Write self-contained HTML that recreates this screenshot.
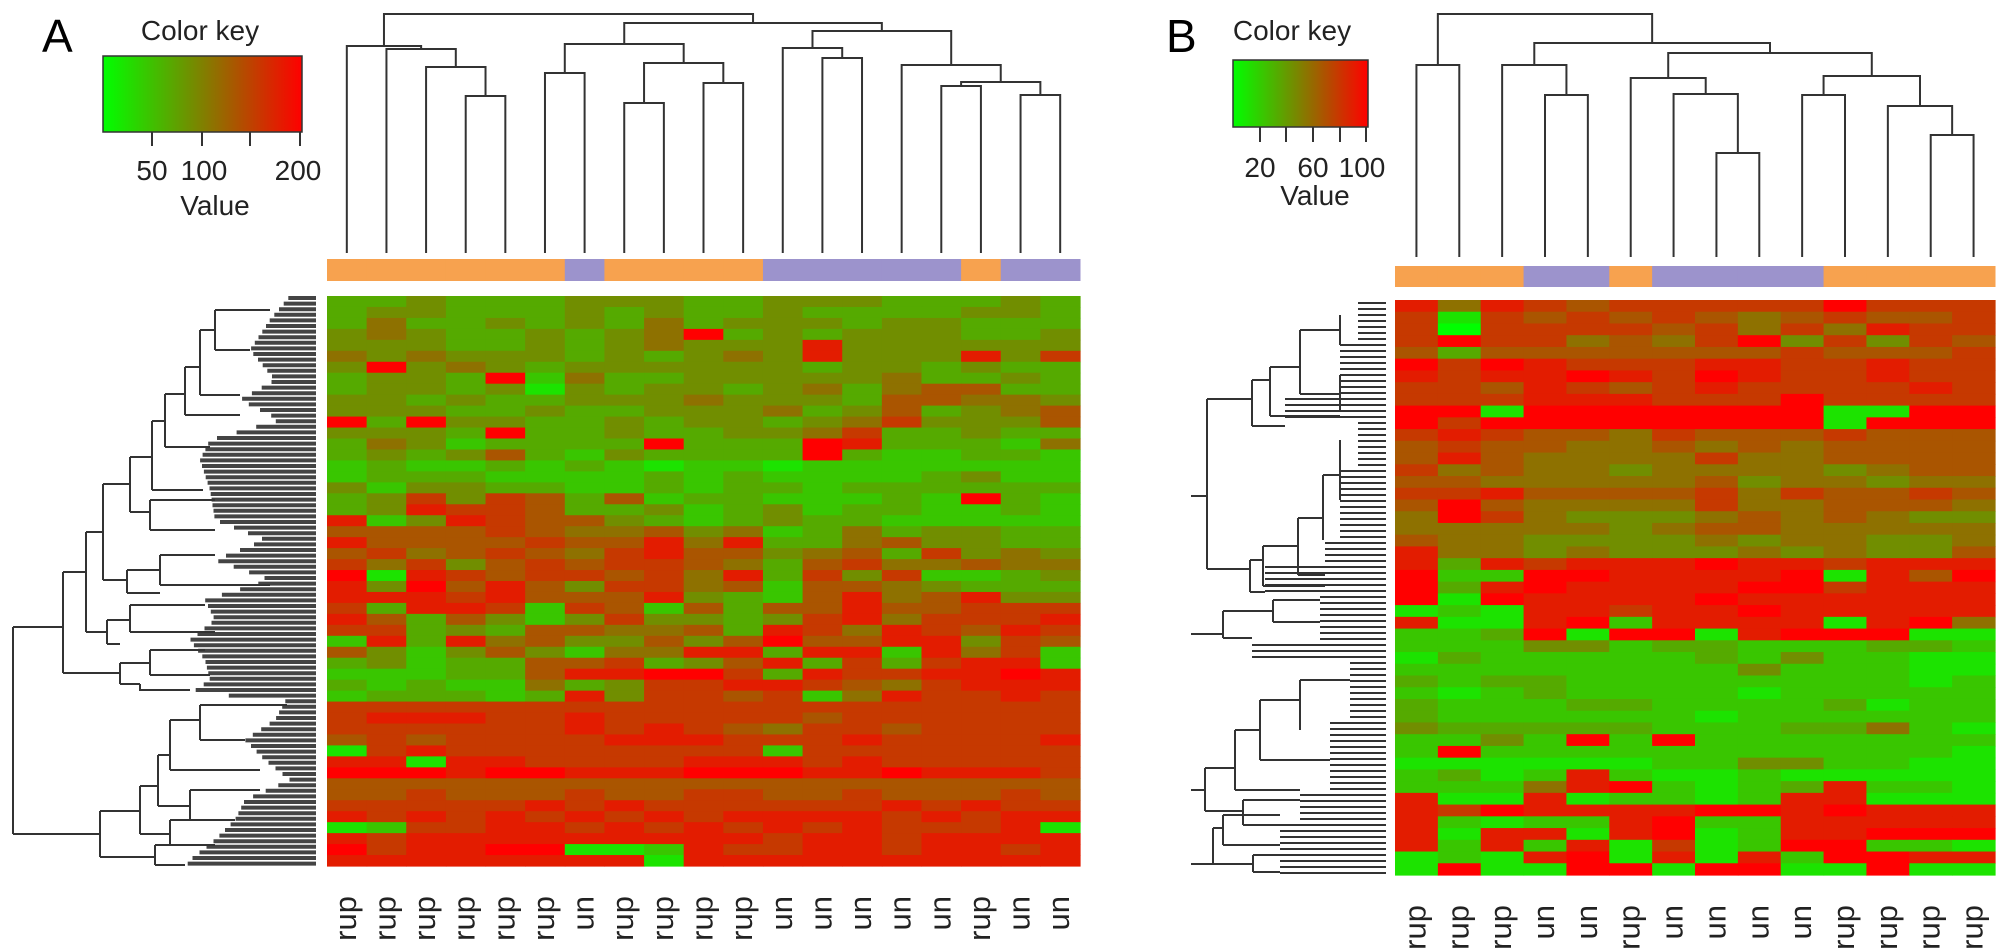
<!DOCTYPE html>
<html><head><meta charset="utf-8"><style>
html,body{margin:0;padding:0;background:#fff;}
svg{display:block;font-family:"Liberation Sans",Arial,sans-serif;}
</style></head><body>
<svg id="fig" width="2008" height="952" viewBox="0 0 2008 952" xmlns="http://www.w3.org/2000/svg">
<defs>
<linearGradient id="kg" x1="0" x2="1" y1="0" y2="0"><stop offset="0" stop-color="#00ff00"/><stop offset="0.5" stop-color="#808000"/><stop offset="1" stop-color="#ff0000"/></linearGradient>
</defs>
<g>
<text x="42" y="52" font-size="46">A</text>
<text x="200" y="40" font-size="28" text-anchor="middle" fill="#222">Color key</text>
<rect x="103" y="56" width="199" height="76" fill="url(#kg)" stroke="#333" stroke-width="1.5"/>
<g stroke="#333" stroke-width="2"><line x1="152" y1="132" x2="152" y2="146"/><line x1="202" y1="132" x2="202" y2="146"/><line x1="250" y1="132" x2="250" y2="146"/><line x1="300" y1="132" x2="300" y2="146"/></g>
<g font-size="28" fill="#222" text-anchor="middle"><text x="152" y="180">50</text><text x="204" y="180">100</text><text x="298" y="180">200</text></g>
<text x="215" y="215" font-size="28" text-anchor="middle" fill="#222">Value</text>
</g>
<g>
<text x="1166" y="52" font-size="46">B</text>
<text x="1292" y="40" font-size="28" text-anchor="middle" fill="#222">Color key</text>
<rect x="1233" y="60" width="135" height="67" fill="url(#kg)" stroke="#333" stroke-width="1.5"/>
<g stroke="#333" stroke-width="2"><line x1="1260" y1="127" x2="1260" y2="142"/><line x1="1286" y1="127" x2="1286" y2="142"/><line x1="1313" y1="127" x2="1313" y2="142"/><line x1="1340" y1="127" x2="1340" y2="142"/><line x1="1366" y1="127" x2="1366" y2="142"/></g>
<g font-size="28" fill="#222" text-anchor="middle"><text x="1260" y="177">20</text><text x="1313" y="177">60</text><text x="1362" y="177">100</text></g>
<text x="1315" y="205" font-size="28" text-anchor="middle" fill="#222">Value</text>
</g>
<g id="rowdendA"></g>
<g id="rowdendB"></g>
</svg>
<script>
// ---- Panel A data ----
const labelsA = ["rup","rup","rup","rup","rup","rup","un","rup","rup","rup","rup","un","un","un","un","un","rup","un","un"];
const mergesA = [[3,4,96],[2,19,67],[1,20,49],[0,21,46],[5,6,73],[7,8,103],[9,10,83],[24,25,63],[23,26,44],[12,13,58],[11,28,48],[15,16,86],[17,18,95],[30,31,82],[14,32,65],[29,33,31],[27,34,23],[22,35,14]];
const rowsA = [
"3343334443344433343","3443334343343333443","3533434353444344333","4543343459343444334",
"4443343454448444444","5454443434548444847","4945434444443443433","3443925334444453343",
"3443414344345356633","4434334445444366554","4443343344453463456","9394433434434574446",
"4443933433445733433","3542333393339833325","3434632433339322332","2322323212212222222",
"2333222232322223422","4244332232332333333","3474763623322232932","3487763342342332232",
"8248766432343322222","6666765564523534433","8666676685833564433","6756765786645637454",
"7574676776536755655","9187677675837472234","8496864775626654333","8887866684326856844",
"7388727626366866777","8636424744347857778","7734366556387587687","2838564464696688476",
"6424642558838828572","3423366734683737882","2223368899738778898","3232253477887657888",
"2333238477672587787","7777777777777777777","7888778777776777777","7777778787657767777",
"6767777888777877778","1787777777727777777","8818877778887877777","9998998889998898887",
"6666666666666666666","6676667667766766676","7777787877777787877","8787878787888878788",
"1277887878787877781","8788888888878878888","9788991128778878878","8888888818888888888"];
// ---- Panel B data ----
const labelsB = ["rup","rup","rup","un","un","rup","un","un","un","un","rup","rup","rup","rup"];
const mergesB = [[0,1,65],[3,4,95],[2,15,65],[7,8,153],[6,17,94],[5,18,78],[9,10,95],[12,13,135],[11,21,106],[20,22,76],[19,23,53],[16,24,43],[14,25,14]];
const rowsB = [
"85876777779777","71767676567667","70777767575877","79775657947476",
"63666666676667","97987778877877","87889879877877","77687678777787",
"77788877797777","99199999991199","97999999991999","78766576667666",
"67665565656666","68655557556666","75655455554566","66555556455455",
"77866667576676","69655557556665","59754445656544","55555456655555",
"65544445455445","85545444545446","83878889887888","92299888891869",
"93898888997888","91988889888888","12188788988888","81189288881895",
"22391991899911","22244233222332","13222223242211","22222222422211",
"32332222222212","21232222122222","32223322223122","32222221222222",
"43333322233521","22429292222222","29222222222221","11111122442211",
"23128211211111","22258921238221","81181221288111","87988889989888",
"82122892288888","81881891288999","82828171299221","12189181829988","19119919911911"];

const SVGNS = "http://www.w3.org/2000/svg";
const svg = document.getElementById('fig');
function mk(tag, attrs, parent){const e=document.createElementNS(SVGNS,tag);for(const k in attrs)e.setAttribute(k,attrs[k]);(parent||svg).appendChild(e);return e;}
function colorOf(v){const t=v/9;return 'rgb('+Math.round(255*t)+','+Math.round(255*(1-t))+',0)';}
const ORANGE="#f7a24f", PURPLE="#9c93cc";

function drawPanel(p){
  const nC=p.labels.length, nR=p.rows.length;
  const cw=(p.x1-p.x0)/nC, rh=(p.y1-p.y0)/nR;
  const xOf=i=>p.x0+(i+0.5)*cw;
  const g=mk('g',{});
  
  
  for(let r=0;r<nR;r++){
    for(let c=0;c<nC;c++){
      const ch=p.rows[r].charAt(c)||'5';
      const rect=mk('rect',{x:(p.x0+c*cw).toFixed(2),y:(p.y0+r*rh).toFixed(2),width:(cw+0.6).toFixed(2),height:(rh+0.6).toFixed(2),fill:colorOf(+ch)},g);
      
      
    }
  }
  const gb=mk('g',{});
  
  
  for(let c=0;c<nC;c++){
    const rr=mk('rect',{x:(p.x0+c*cw).toFixed(2),y:p.barY,width:(cw+0.5).toFixed(2),height:p.barH,fill:p.labels[c]==='rup'?ORANGE:PURPLE},gb);
    
    
  }
  const gl=mk('g',{});
  
  
  for(let c=0;c<nC;c++){
    const tx=xOf(c)+9, ty=p.y1+30;
    const t=mk('text',{x:tx,y:ty,'font-size':31,fill:'#222','text-anchor':'end',transform:'rotate(-90 '+tx+' '+ty+')'},gl);
    t.textContent=p.labels[c];
    
    
  }
  const gd=mk('g',{fill:'none',stroke:'#333','stroke-width':2});
  
  
  const pos=[],hy=[];
  for(let i=0;i<nC;i++){pos[i]=xOf(i);hy[i]=p.leafY;}
  p.merges.forEach((m,k)=>{
    const id=nC+k,a=m[0],b=m[1],h=m[2];
    pos[id]=(pos[a]+pos[b])/2;hy[id]=h;
    const path=mk('path',{d:'M'+pos[a]+' '+hy[a]+'V'+h+'H'+pos[b]+'V'+hy[b]},gd);
    
    
  });
}
drawPanel({name:'panel-a',labels:labelsA,rows:rowsA,merges:mergesA,x0:327,x1:1080,y0:296,y1:866,barY:259,barH:22,leafY:253});
drawPanel({name:'panel-b',labels:labelsB,rows:rowsB,merges:mergesB,x0:1395,x1:1995,y0:300,y1:875,barY:266,barH:21,leafY:257});

function profileAt(prof,y){
  for(let i=0;i<prof.length-1;i++){const a=prof[i],b=prof[i+1];if(y>=a[1]&&y<=b[1]){const t=(y-a[1])/((b[1]-a[1])||1);return a[0]+(b[0]-a[0])*t;}}
  return prof[prof.length-1][0];
}
// ---- row dendrogram A ----
const gA=document.getElementById('rowdendA');
const profA=[[290,296],[270,320],[250,350],[275,380],[240,400],[280,420],[210,440],[200,460],[210,490],[215,520],[265,540],[215,560],[270,580],[205,600],[215,620],[190,640],[205,660],[210,680],[190,694],[287,698],[275,720],[245,740],[265,760],[290,780],[245,800],[235,820],[215,840],[190,860],[185,868]];
for(let y=298;y<868;y+=5.6){
  const xs=profileAt(profA,y);
  const l=mk('line',{x1:xs.toFixed(1),y1:y.toFixed(1),x2:316,y2:y.toFixed(1),stroke:'#444','stroke-width':4},gA);
  
  
}
const segA=["M13 627V834","M13 627H63","M13 834H100","M63 572V673","M63 572H86","M63 673H120","M86 532V632","M86 532H103","M86 632H107",
"M103 484V580","M103 484H130","M103 580H127","M130 457V512","M130 457H152","M130 512H150","M152 421V490","M152 421H165","M152 490H203",
"M165 394V447","M165 394H185","M165 447H210","M185 367V415","M185 367H200","M185 415H240","M200 330V395","M200 330H215","M200 395H240","M215 310V350","M215 310H270","M215 350H250",
"M150 500V530","M150 500H215","M150 530H215","M127 570V593","M127 570H160","M127 593H160","M160 555V585","M160 555H215","M160 585H270","M107 620V644","M107 620H130","M107 644H120",
"M130 605V632","M130 605H205","M130 632H215","M120 663V684","M120 663H150","M120 684H140","M150 650V675","M150 650H205","M150 675H210","M140 684V690H190",
"M100 811V857","M100 811H140","M100 857H155","M140 786V834","M140 786H158","M140 834H170","M158 755V806","M158 755H170","M158 806H190",
"M170 720V770","M170 720H200","M170 770H260","M200 705V740","M200 705H287","M200 740H245","M155 845V865","M155 845H215","M155 865H185","M170 820V845","M170 820H235","M190 790V820","M190 790H260"];
segA.forEach(d=>{const e=mk('path',{d:d,fill:'none',stroke:'#333','stroke-width':2},gA);});

// ---- row dendrogram B ----
const gB=document.getElementById('rowdendB');
const leafStartB=[[300,340,1358],[340,395,1340],[395,420,1285],[420,470,1358],[470,540,1340],[540,565,1325],[565,595,1265],[595,640,1320],[640,660,1252],[660,720,1350],[720,790,1330],[790,830,1300],[830,875,1280]];
for(let y=303;y<875;y+=6){
  let xs=1360;leafStartB.forEach(s=>{if(y>=s[0]&&y<s[1])xs=s[2];});
  const l=mk('line',{x1:xs,y1:y,x2:1386,y2:y,stroke:'#333','stroke-width':2},gB);
  
  
}
const segB=["M1191 496H1207","M1191 634H1223","M1191 790H1205","M1191 864H1213",
"M1207 399V569","M1207 399H1252","M1207 569H1250","M1252 380V426","M1252 380H1270","M1252 426H1285",
"M1270 367V416","M1270 367H1300","M1270 416H1340","M1300 330V394","M1300 330H1340","M1300 394H1340","M1340 315V345","M1340 375V410",
"M1250 560V592","M1250 560H1263","M1250 592H1265","M1263 546V586","M1263 546H1298","M1263 586H1325","M1298 518V575","M1298 518H1323","M1298 575H1325",
"M1323 475V540","M1323 475H1340","M1340 440V500",
"M1223 611V638","M1223 611H1273","M1223 638H1252","M1273 600V622","M1273 600H1320","M1273 622H1320",
"M1205 768V811","M1205 768H1235","M1205 811H1243","M1235 730V790","M1235 730H1260","M1235 790H1300","M1260 700V760","M1260 700H1300","M1260 760H1330","M1300 680V730","M1300 680H1350","M1243 800V825","M1243 800H1300","M1243 825H1300",
"M1213 828V864","M1213 828H1223","M1213 864H1253","M1223 815V845","M1223 815H1280","M1223 845H1280","M1253 855V872","M1253 855H1280","M1253 872H1280"];
segB.forEach(d=>{const e=mk('path',{d:d,fill:'none',stroke:'#333','stroke-width':2},gB);});
</script>
</body></html>
